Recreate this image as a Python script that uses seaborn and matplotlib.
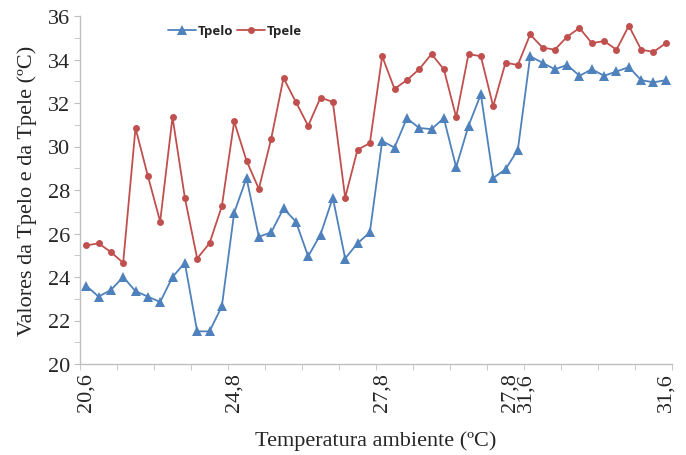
import matplotlib
matplotlib.use("Agg")

import numpy as np
import pandas as pd
import matplotlib.pyplot as plt
import seaborn as sns
from matplotlib.ticker import MultipleLocator, FixedLocator

# valores (48 observações)
tpelo = [23.6, 23.1, 23.4, 24.0, 23.35, 23.1, 22.85, 24.0, 24.65, 21.5,
         21.5, 22.65, 26.95, 28.55, 25.85, 26.05, 27.15, 26.55, 24.95, 25.95,
         27.65, 24.85, 25.55, 26.05, 30.25, 29.95, 31.3, 30.85, 30.8, 31.3,
         29.05, 30.95, 32.4, 28.55, 28.95, 29.85, 34.15, 33.85, 33.55, 33.75,
         33.25, 33.55, 33.25, 33.45, 33.65, 33.05, 32.95, 33.05]
tpele = [25.45, 25.55, 25.15, 24.65, 30.85, 28.65, 26.55, 31.35, 27.65, 24.85,
         25.55, 27.25, 31.15, 29.35, 28.05, 30.35, 33.15, 32.05, 30.95, 32.25,
         32.05, 27.65, 29.85, 30.15, 34.15, 32.65, 33.05, 33.55, 34.25, 33.55,
         31.35, 34.25, 34.15, 31.85, 33.85, 33.75, 35.15, 34.55, 34.45, 35.05,
         35.45, 34.75, 34.85, 34.45, 35.55, 34.45, 34.35, 34.75]
rotulos_pos = [0, 12, 24, 35, 47]
rotulos_txt = ["20,6", "24,8", "27,8", "27,8\n31,6", "31,6"]

AZUL = "#4F81BD"
VERMELHO = "#C0504D"
CINZA = "#BFBFBF"

sns.set_style("white")
plt.rcParams["font.family"] = ["Liberation Serif", "DejaVu Serif"]

df = pd.DataFrame({"obs": np.arange(len(tpelo)), "Tpelo": tpelo, "Tpele": tpele})

fig = plt.figure(figsize=(6.86, 4.56), dpi=100)
ax = fig.add_axes([80 / 686, 1 - 365 / 456, 592 / 686, 348 / 456])

sns.lineplot(data=df, x="obs", y="Tpelo", ax=ax, color=AZUL, lw=1.3,
             marker="^", markersize=7, markeredgewidth=0, label="Tpelo")
sns.lineplot(data=df, x="obs", y="Tpele", ax=ax, color=VERMELHO, lw=1.3,
             marker="o", markersize=5, markeredgewidth=0, label="Tpele")

ax.set_xlim(-0.5, len(tpelo) - 0.5)
ax.set_ylim(20, 36)

ax.yaxis.set_major_locator(MultipleLocator(2))
ax.yaxis.set_minor_locator(MultipleLocator(1))
ax.xaxis.set_major_locator(FixedLocator(rotulos_pos))
ax.xaxis.set_minor_locator(FixedLocator(np.arange(-0.5, len(tpelo), 3)))
ax.set_xticklabels(rotulos_txt, rotation=90, fontsize=16, linespacing=0.75)
ax.tick_params(axis="y", which="both", direction="out", length=4,
               color=CINZA, labelsize=16, left=True, pad=3)
ax.tick_params(axis="x", which="major", length=0, pad=6)
ax.tick_params(axis="x", which="minor", direction="out", length=4,
               color=CINZA, bottom=True)

sns.despine(ax=ax)
for lado in ["left", "bottom"]:
    ax.spines[lado].set_color(CINZA)
    ax.spines[lado].set_linewidth(1.0)

ax.set_xlabel("Temperatura ambiente (ºC)", fontsize=16, labelpad=14)
ax.set_ylabel("Valores da Tpelo e da Tpele (ºC)", fontsize=16, labelpad=8)

leg = ax.legend(loc="center", bbox_to_anchor=(0.262, 0.957), ncol=2,
                frameon=False, handlelength=2.1, handletextpad=0.15,
                columnspacing=0.3, borderpad=0,
                prop={"family": "Open Sans", "weight": "bold", "size": 9.5})

fig.savefig("out.png", dpi=100)
plt.close(fig)
